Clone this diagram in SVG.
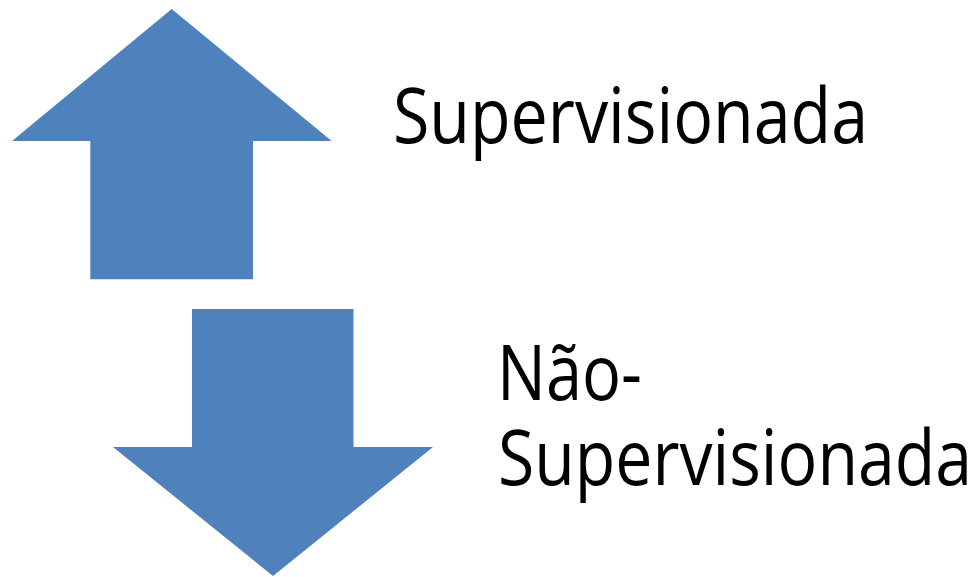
<svg xmlns="http://www.w3.org/2000/svg" width="978" height="577" viewBox="0 0 978 577">
<style>
.arrow{fill:#4F81BD;stroke:none}
.lbl{font-family:"Open Sans","Liberation Sans",sans-serif;font-size:76px;fill:#000}
</style>
<rect width="978" height="577" fill="#fff"/>
<g id="up-arrow">
<polygon class="arrow" points="171.7,9 331.7,141 253,141 253,279.3 90.3,279.3 90.3,141 12,141"/>
</g>
<g id="down-arrow">
<polygon class="arrow" points="192,309 353.5,309 353.5,447 433,447 273,576 113,447 192,447"/>
</g>
<g id="label-supervisionada">
<text class="lbl" x="393" y="143" textLength="475" lengthAdjust="spacingAndGlyphs">Supervisionada</text>
</g>
<g id="label-nao-supervisionada">
<text class="lbl" x="497" y="400" textLength="145" lengthAdjust="spacingAndGlyphs">Não-</text>
<text class="lbl" x="498" y="485" textLength="474" lengthAdjust="spacingAndGlyphs">Supervisionada</text>
</g>
<g id="connectors"/>
</svg>
